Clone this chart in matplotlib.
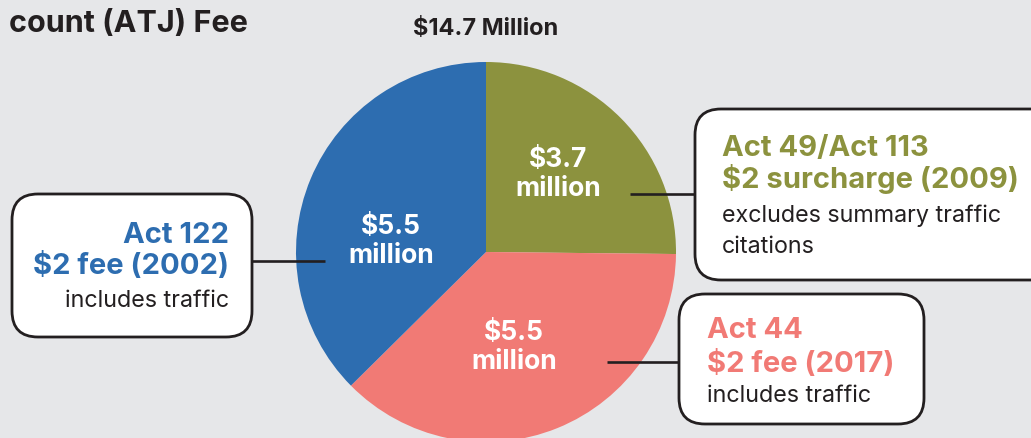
import matplotlib
matplotlib.use("Agg")
import matplotlib.pyplot as plt
from matplotlib.patches import FancyBboxPatch

# ATJ fee revenue by source, in $ million
sources = ["Act 49/Act 113", "Act 44", "Act 122"]
amounts = [3.7, 5.5, 5.5]
colors = ["#8c923e", "#f17a75", "#2d6db0"]
total_label = "$14.7 Million"
headings = [
    ["Act 49/Act 113", "$2 surcharge (2009)"],
    ["Act 44", "$2 fee (2017)"],
    ["Act 122", "$2 fee (2002)"],
]
notes = [
    ["excludes summary traffic", "citations"],
    ["includes traffic"],
    ["includes traffic"],
]

BG = "#e6e7e9"
INK = "#231f20"
W, H = 1031, 438
FONT = "Inter"


def px(y):
    # image-style top-down y to axes y
    return H - y


fig = plt.figure(figsize=(W / 100, H / 100), dpi=100, facecolor=BG)
ax = fig.add_axes([0, 0, 1, 1])

# pie
cx, cy, r = 486, px(252), 190
ax.pie(amounts, colors=colors, startangle=90, counterclock=False,
       center=(cx, cy), radius=r, frame=True,
       wedgeprops=dict(linewidth=0))
ax.set_xlim(0, W)
ax.set_ylim(0, H)
ax.set_aspect("equal")
ax.axis("off")

# value labels inside the wedges
value_pos = [(558, 160), (514, 333), (391, 227)]
for amt, (x, y) in zip(amounts, value_pos):
    ax.text(x, px(y), f"${amt:.1f}", ha="center", va="center", color="white",
            fontsize=19, fontweight="bold", family=FONT)
    ax.text(x, px(y + 29), "million", ha="center", va="center", color="white",
            fontsize=19, fontweight="bold", family=FONT)

# titles
ax.text(248, px(32), "count (ATJ) Fee", ha="right",
        va="baseline", color=INK, fontsize=22, fontweight="bold", family=FONT)
ax.text(486, px(35), total_label, ha="center", va="baseline", color=INK,
        fontsize=17, fontweight="bold", family=FONT)

# callout boxes: (x0, y_top, x1, y_bottom), text x, align, baselines, leader line
boxes = [
    dict(box=(695, 109, 1060, 280), tx=722, ha="left",
         base=[156, 188, 222, 253], line=((630, 194), (695, 194))),
    dict(box=(679, 294, 924, 424), tx=707, ha="left",
         base=[338, 372, 402], line=((607, 362), (679, 362))),
    dict(box=(12, 194, 252, 337), tx=229, ha="right",
         base=[243, 274, 307], line=((252, 261), (325, 261))),
]

for i, b in enumerate(boxes):
    x0, yt, x1, yb = b["box"]
    ax.add_patch(FancyBboxPatch((x0, px(yb)), x1 - x0, yb - yt,
                                boxstyle="round,pad=0,rounding_size=26",
                                facecolor="white", edgecolor=INK, linewidth=2.0,
                                zorder=3))
    (lx0, ly0), (lx1, ly1) = b["line"]
    ax.plot([lx0, lx1], [px(ly0), px(ly1)], color=INK, linewidth=1.9,
            solid_capstyle="butt", zorder=4)
    lines = [(t, True) for t in headings[i]] + [(t, False) for t in notes[i]]
    for (t, bold), y in zip(lines, b["base"]):
        ax.text(b["tx"], px(y), t, ha=b["ha"], va="baseline",
                color=colors[i] if bold else INK,
                fontsize=21 if bold else 16.8,
                fontweight="bold" if bold else "normal",
                family=FONT, zorder=5)

fig.savefig("out.png", dpi=100, facecolor=BG)
